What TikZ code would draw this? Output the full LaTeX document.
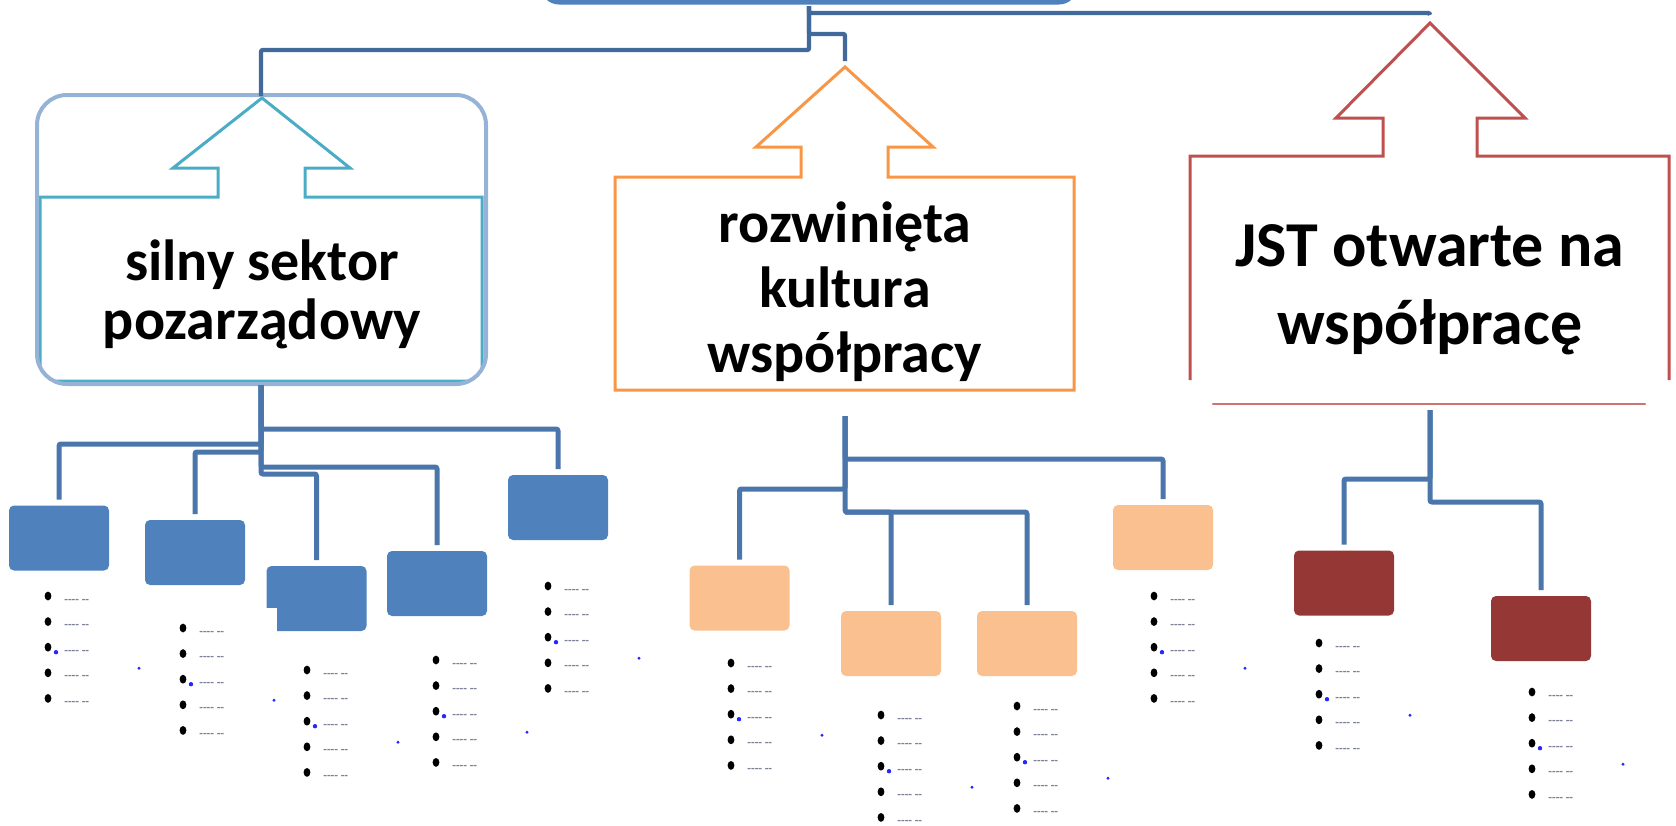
\documentclass[tikz,border=0pt]{standalone}
\usepackage{fontspec}
\setmainfont{Carlito}
\usetikzlibrary{calc,shapes.geometric}
\definecolor{conncol}{HTML}{4A76AC}
\definecolor{conntop}{HTML}{41699C}
\definecolor{topblue}{HTML}{4F81BD}
\definecolor{lightblue}{HTML}{95B3D7}
\definecolor{cteal}{HTML}{4BACC6}
\definecolor{corange}{HTML}{F79646}
\definecolor{cred}{HTML}{C0504D}
\definecolor{bfill}{HTML}{4F81BD}
\definecolor{ofill}{HTML}{FAC090}
\definecolor{rfill}{HTML}{953735}
\definecolor{dashcol}{HTML}{7C8096}
\tikzset{
  conn/.style={draw=conncol, line width=2.5pt, rounded corners=1pt},
  conntopst/.style={draw=conntop, line width=2.2pt, rounded corners=1pt},
  sbox/.style={minimum width=50pt, minimum height=32.5pt, rounded corners=2.5pt, inner sep=0pt, outer sep=0pt},
  bluebox/.style={sbox, fill=bfill},
  orangebox/.style={sbox, fill=ofill},
  redbox/.style={sbox, fill=rfill},
  bigtext/.style={align=center, inner sep=0pt, font=\bfseries},
  bulletdot/.style={fill=black, ellipse, minimum width=3.4pt, minimum height=4.4pt, inner sep=0pt},
  dashtext/.style={text=dashcol, inner sep=0pt, anchor=west, font=\bfseries\fontsize{6}{6}\selectfont},
  bluedot/.style={fill=blue!85, circle, minimum size=2.2pt, inner sep=0pt},
}
\begin{document}
\begin{tikzpicture}[x=0.5pt,y=-0.5pt]
\useasboundingbox (0,0) rectangle (1676,825);
\clip (0,0) rectangle (1676,825);

% top box (mostly outside the picture)
\draw[topblue, line width=2.5pt, rounded corners=8pt] (543,-80) rectangle (1075,2);
\coordinate (T) at (809,6);

% left big box
\begin{scope}
  \clip[rounded corners=15pt] (37,95) rectangle (486,384);
  \draw[cteal, line width=1.5pt] (40,197) -- (218,197) -- (218,168) -- (173,168) -- (262,98)
     -- (350,168) -- (305,168) -- (305,197) -- (482,197) -- (482,381) -- (40,381) -- cycle;
\end{scope}
\draw[lightblue, line width=2pt, rounded corners=15pt] (37,95) rectangle (486,384);
\coordinate (Ltip) at (261,96);
\coordinate (Lb) at (261,385);
\node[bigtext, font=\bfseries\fontsize{29}{29.5}\selectfont] (Ltext) at (262,294) {silny sektor\\pozarządowy};

% orange big box
\draw[corange, line width=1.5pt] (615,177) -- (801,177) -- (801,147) -- (756,147) -- (845,67)
   -- (933,147) -- (888,147) -- (888,177) -- (1074,177) -- (1074,390) -- (615,390) -- cycle;
\coordinate (Otip) at (845,67);
\coordinate (Ob) at (845,416);
\node[bigtext, font=\bfseries\fontsize{29}{32.5}\selectfont] (Otext) at (845,292) {rozwinięta\\kultura\\współpracy};

% red big box
\draw[cred, line width=1.5pt] (1190,380) -- (1190,156) -- (1383,156) -- (1383,118) -- (1336,118)
   -- (1430,23) -- (1525,118) -- (1477,118) -- (1477,156) -- (1669,156) -- (1669,380);
\draw[cred!80, line width=1.2pt, line cap=round] (1213,404) -- (1645,404);
\coordinate (Rtip) at (1430,23);
\coordinate (Rb) at (1430,410);
\node[bigtext, font=\bfseries\fontsize{32}{39}\selectfont] (Rtext) at (1430,290) {JST otwarte na\\współpracę};

% top connectors
\draw[conntopst] (T) -- ++(0,44) -| (Ltip);
\draw[conntopst] (T) -- ++(0,7) -| ($(Rtip)+(0,-8)$);
\draw[conntopst] (T) -- ++(0,28) -| ($(Otip)+(0,-6)$);

% small boxes
\node[bluebox] (b1) at (59,538) {};
\node[bluebox] (b2) at (195,552.5) {};
\node[bluebox] (b3) at (316.5,598.5) {};
\fill[white] (264,608) rectangle (277,634);
\node[bluebox] (b4) at (437,583.5) {};
\node[bluebox] (b5) at (558,507.5) {};
\node[orangebox] (o1) at (739.5,598) {};
\node[orangebox] (o2) at (891,643.5) {};
\node[orangebox] (o3) at (1027,643.5) {};
\node[orangebox] (o4) at (1163,537.5) {};
\node[redbox] (r1) at (1344,583) {};
\node[redbox] (r2) at (1541,628.5) {};

% lower connectors: blue group
\draw[conn] (Lb) -- ++(0,44) -| ($(b5.north)+(0,-6)$);
\draw[conn] (Lb) -- ++(0,59) -| ($(b1.north)+(0,-6)$);
\draw[conn] (Lb) -- ++(0,67) -| ($(b2.north)+(0,-6)$);
\draw[conn] (Lb) -- ++(0,82) -| ($(b4.north)+(0,-6)$);
\draw[conn] (Lb) -- ++(0,89) -| ($(b3.north)+(0,-6)$);
% orange group
\draw[conn] (Ob) -- ++(0,43) -| ($(o4.north)+(0,-6)$);
\draw[conn] (Ob) -- ++(0,73) -| ($(o1.north)+(0,-6)$);
\draw[conn] (Ob) -- ++(0,96) -| ($(o3.north)+(0,-6)$);
\draw[conn] ($(Ob)+(0,96)$) -| ($(o2.north)+(0,-6)$);
% red group
\draw[conn] (Rb) -- ++(0,69) -| ($(r1.north)+(0,-6)$);
\draw[conn] (Rb) -- ++(0,92) -| ($(r2.north)+(0,-6)$);

% bullet lists
\foreach \lx/\ly/\nm in {48/596/L1, 183/628/L2, 307/670/L3, 436/660/L4, 548/586/L5,
                         731/663/L6, 881/715/L7, 1017/706/L8, 1154/596/L9,
                         1319/643/L10, 1532/692/L11} {
  \foreach \i in {0,...,4} {
    \node[bulletdot] (\nm-b\i) at (\lx,\ly+25.6*\i) {};
    \node[dashtext] (\nm-t\i) at (\lx+16,\ly+25.6*\i+5) {-{}-{}-{}- -{}-};
  }
  \node[bluedot] (\nm-d) at (\lx+8,\ly+25.6*2+5) {};
  \node[bluedot, minimum size=1.6pt] (\nm-s) at (\lx+91,\ly+25.6*2+21) {};
}
\end{tikzpicture}
\end{document}
